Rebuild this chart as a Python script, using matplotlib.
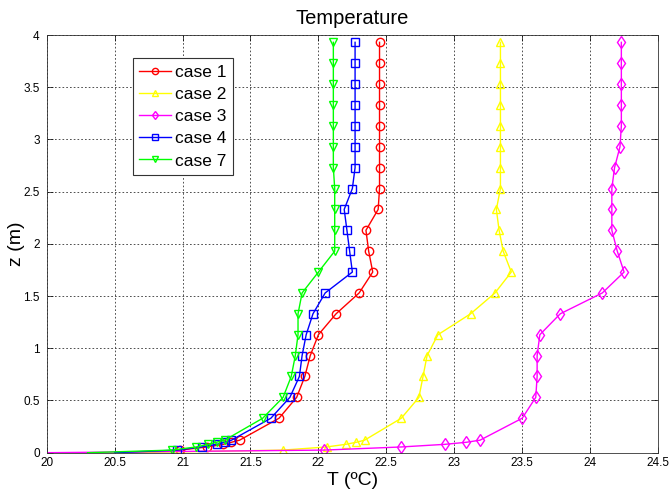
import matplotlib
matplotlib.use("Agg")
import matplotlib.pyplot as plt
from matplotlib.ticker import FixedLocator, FormatStrFormatter

plt.rcParams['font.family'] = ['Liberation Sans', 'DejaVu Sans']

z = [0, 0.025, 0.055, 0.08, 0.1, 0.12, 0.33, 0.53, 0.73, 0.93, 1.13, 1.33, 1.53,
     1.73, 1.93, 2.13, 2.33, 2.53, 2.73, 2.93, 3.13, 3.33, 3.53, 3.73, 3.93]

case1 = [20.6, 20.98, 21.18, 21.30, 21.36, 21.42, 21.71, 21.84, 21.90, 21.94, 22.00,
         22.13, 22.30, 22.40, 22.37, 22.35, 22.44, 22.45, 22.45, 22.45, 22.45, 22.45,
         22.45, 22.45, 22.45]
case2 = [20.6, 21.74, 22.06, 22.20, 22.28, 22.34, 22.61, 22.74, 22.77, 22.80, 22.88,
         23.12, 23.30, 23.42, 23.36, 23.33, 23.31, 23.34, 23.34, 23.34, 23.34, 23.34,
         23.34, 23.34, 23.34]
case3 = [20.0, 22.04, 22.61, 22.93, 23.09, 23.19, 23.50, 23.60, 23.61, 23.61, 23.63,
         23.78, 24.09, 24.25, 24.20, 24.16, 24.16, 24.16, 24.18, 24.22, 24.23, 24.23,
         24.23, 24.23, 24.23]
case4 = [20.5, 20.96, 21.14, 21.25, 21.31, 21.36, 21.65, 21.79, 21.86, 21.88, 21.91,
         21.96, 22.05, 22.25, 22.23, 22.21, 22.19, 22.25, 22.27, 22.27, 22.27, 22.27,
         22.27, 22.27, 22.27]
case7 = [20.3, 20.92, 21.10, 21.19, 21.25, 21.31, 21.59, 21.74, 21.80, 21.83, 21.85,
         21.85, 21.88, 22.00, 22.12, 22.12, 22.12, 22.12, 22.11, 22.11, 22.11, 22.11,
         22.11, 22.11, 22.11]

labels = ['case 1', 'case 2', 'case 3', 'case 4', 'case 7']
colors = ['#ff0000', '#ffff00', '#ff00ff', '#0000ff', '#00ff00']
markers = ['o', '^', 'd', 's', 'v']
series = [case1, case2, case3, case4, case7]

xticks = [20, 20.5, 21, 21.5, 22, 22.5, 23, 23.5, 24, 24.5]
yticks = [0, 0.5, 1, 1.5, 2, 2.5, 3, 3.5, 4]

fig = plt.figure(figsize=(6.69, 4.91), dpi=100)
ax = fig.add_axes([0.0698, 0.078, 0.9836 - 0.0698, 0.9287 - 0.078])

for T, lab, c, m in zip(series, labels, colors, markers):
    ax.plot(T, z, color=c, marker=m, markersize=6, markerfacecolor='none',
            markeredgewidth=1.0, linewidth=1.0, label=lab,
            markevery=slice(1, None))

ax.set_xlim(20, 24.5)
ax.set_ylim(0, 4)
ax.xaxis.set_major_locator(FixedLocator(xticks))
ax.yaxis.set_major_locator(FixedLocator(yticks))
ax.xaxis.set_major_formatter(FormatStrFormatter('%g'))
ax.yaxis.set_major_formatter(FormatStrFormatter('%g'))
ax.tick_params(direction='in', length=4, width=0.5, labelsize=8.5, top=True, right=True)
ax.tick_params(axis='y', pad=5)
ax.tick_params(axis='x', pad=3)
ax.grid(True, color='0.2', linestyle=(0, (2, 2.5)), linewidth=0.6)
for s in ax.spines.values():
    s.set_linewidth(0.6)
    s.set_color('0.2')

ax.set_title('Temperature', fontsize=14.5, pad=8)
ax.set_xlabel('T (ºC)', fontsize=14, labelpad=2)
ax.set_ylabel('z (m)', fontsize=14)
ax.yaxis.set_label_coords(-0.036, 0.5)

leg = ax.legend(loc='upper left', bbox_to_anchor=(0.1407, 0.944), borderaxespad=0,
                fontsize=12.5, handlelength=1.8, handletextpad=0.25, labelspacing=0.4,
                borderpad=0.38, fancybox=False, framealpha=1, edgecolor='0.2',
                markerscale=0.75)
leg.get_frame().set_linewidth(0.8)

fig.savefig('out.png', dpi=100)
